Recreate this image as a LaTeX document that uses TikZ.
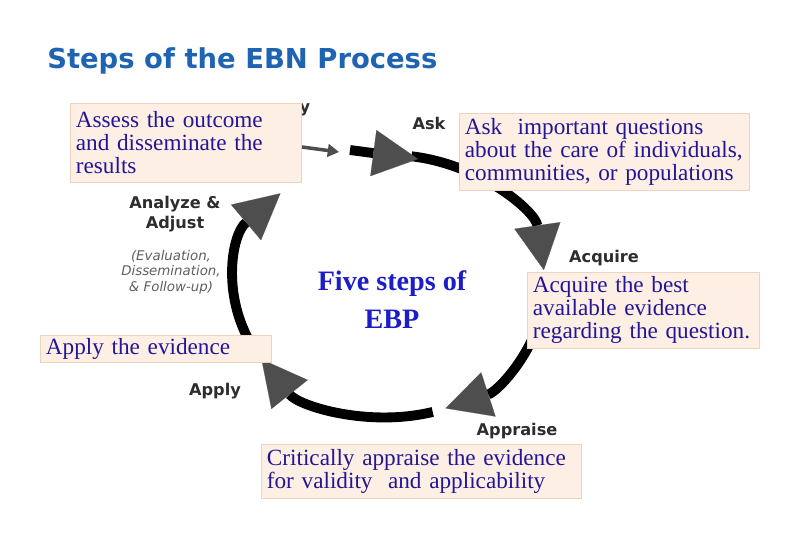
\documentclass[tikz,border=0pt]{standalone}
\usepackage{fontspec}
\setmainfont{Liberation Serif}
\newfontfamily\labelfont{DejaVu Sans}
\usetikzlibrary{arrows.meta}
\definecolor{titleblue}{RGB}{31,100,178}
\definecolor{noteink}{RGB}{35,22,150}
\definecolor{centreblue}{RGB}{28,28,200}
\definecolor{notefill}{RGB}{253,239,228}
\definecolor{noteline}{RGB}{236,212,192}
\definecolor{headgray}{RGB}{78,78,78}
\definecolor{labelgray}{RGB}{45,45,45}
\definecolor{softgray}{RGB}{95,95,95}
\tikzset{
  notebox/.style={draw=noteline,fill=notefill,text=noteink,anchor=north west,align=left,
    inner xsep=4pt,inner ysep=2pt,font=\fontsize{16.5}{16.3}\selectfont},
  steplabel/.style={text=labelgray,align=center,font=\labelfont\bfseries\fontsize{11.5}{14}\selectfont},
  cyclearrow/.style={line width=7pt,black,-{Triangle[length=32pt,width=33pt,line width=0.1pt,color=headgray]}},
}
\begin{document}
\begin{tikzpicture}[x=0.025cm,y=-0.025cm]
    %% Page
    \fill[white] (0,0) rectangle (794,540);
    %% Title
    \node[anchor=base west,inner sep=0pt,text=titleblue,font=\labelfont\bfseries\fontsize{19.5}{23}\selectfont] (title) at (47,68) {Steps of the EBN Process};
    %% Cycle
    \coordinate (hub) at (390,286);
    \draw[cyclearrow] ([shift={(-82:155 and 131)}]hub) arc[start angle=-82,end angle=-7,x radius=155,y radius=131];
    \draw[cyclearrow] ([shift={(8:155 and 131)}]hub) arc[start angle=8,end angle=69,x radius=155,y radius=131];
    \draw[cyclearrow] ([shift={(74:155 and 131)}]hub) arc[start angle=74,end angle=146,x radius=155,y radius=131];
    \draw[cyclearrow] ([shift={(150:155 and 131)}]hub) arc[start angle=150,end angle=225,x radius=155,y radius=131];
    \coordinate (askfrom) at (350,150);
    \coordinate (askto) at (418,159);
    \draw[cyclearrow] (askfrom) -- (askto);
    \coordinate (thinfrom) at (302,147);
    \coordinate (thinto) at (339,152);
    \draw[line width=2.5pt,headgray,-{Triangle[length=8pt,width=9pt]}] (thinfrom) -- (thinto);
    %% Step labels
    \node[steplabel] (rest) at (305,110) {y};
    \node[steplabel] (asklbl) at (429,123) {Ask};
    \node[steplabel] (acquirelbl) at (604,258) {Acquire};
    \node[steplabel] (appraiselbl) at (517,431) {Appraise};
    \node[steplabel] (applylbl) at (215,391) {Apply};
    \node[steplabel] (analyzelbl) at (175,214) {Analyze \&\\Adjust};
    \node[text=softgray,align=center,font=\labelfont\itshape\fontsize{9.5}{11}\selectfont] (evallbl) at (171,272) {(Evaluation,\\Dissemination,\\\& Follow-up)};
    %% Notes
    \node[notebox,text width=156pt,minimum height=56pt] (assess) at (70,103) {Assess the outcome\\and disseminate the\\results};
    \node[notebox,text width=198pt,minimum height=54.6pt] (ask) at (459,113) {Ask\ \ important questions\\about the care of individuals,\\communities, or populations};
    \node[notebox,text width=157pt,minimum height=54pt] (acquire) at (527,272) {Acquire the best\\available evidence\\regarding the question.};
    \node[notebox,text width=156.5pt,minimum height=19pt] (apply) at (40,335) {Apply the evidence};
    \node[notebox,text width=219.6pt,minimum height=38.3pt] (appraise) at (261,444) {Critically appraise the evidence\\for validity\ \ and applicability};
    %% Centre
    \node[text=centreblue,align=center,font=\bfseries\fontsize{20}{27}\selectfont] (centre) at (392,300) {Five steps of\\EBP};
\end{tikzpicture}
\end{document}
